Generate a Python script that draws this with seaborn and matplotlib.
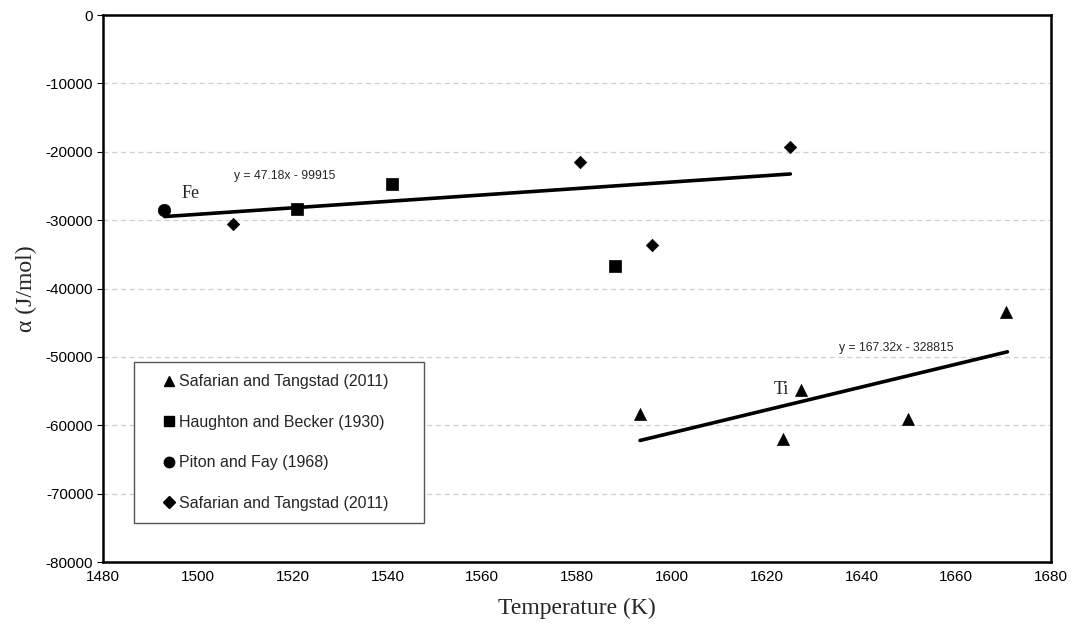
import matplotlib
matplotlib.use("Agg")
import matplotlib.pyplot as plt
from matplotlib.lines import Line2D
import numpy as np
import pandas as pd
import seaborn as sns

# Measured interaction parameters (temperature in K, alpha in J/mol)
ti_safarian_T = [1593.3, 1623.5, 1627.2, 1649.9, 1670.6]
ti_safarian_a = [-58400, -62000, -54900, -59100, -43400]

fe_haughton_T = [1520.9, 1541.0, 1588.0]
fe_haughton_a = [-28300, -24700, -36700]

fe_piton_T = [1492.9]
fe_piton_a = [-28500]

fe_safarian_T = [1507.4, 1580.6, 1595.8, 1624.9]
fe_safarian_a = [-30600, -21450, -33600, -19250]

# Linear fits (slope, intercept) and the temperature span each covers
fe_fit = (47.18, -99915)
fe_fit_T = [1493.0, 1625.0]
ti_fit = (167.32, -328815)
ti_fit_T = [1593.3, 1670.8]

legend_labels = [
    "Safarian and Tangstad (2011)",
    "Haughton and Becker (1930)",
    "Piton and Fay (1968)",
    "Safarian and Tangstad (2011)",
]

x_ticks = list(range(1480, 1681, 20))
y_ticks = list(range(-80000, 1, 10000))

sns.set_theme(style="white")
plt.rcParams["font.family"] = ["Liberation Sans", "DejaVu Sans"]
plt.rcParams["axes.unicode_minus"] = False
serif = ["Liberation Serif", "DejaVu Serif"]

fig = plt.figure(figsize=(10.73, 6.26), dpi=100)
ax = fig.add_axes([0.096, 0.1022, 0.8835, 0.8738])

# Fit lines
for (m, b), span in ((fe_fit, fe_fit_T), (ti_fit, ti_fit_T)):
    xs = np.array(span)
    fit_df = pd.DataFrame({"T": xs, "alpha": m * xs + b})
    sns.lineplot(data=fit_df, x="T", y="alpha", ax=ax, color="black",
                 linewidth=2.6, zorder=3, legend=False)

series = [
    (ti_safarian_T, ti_safarian_a, "^", 75),
    (fe_haughton_T, fe_haughton_a, "s", 75),
    (fe_piton_T, fe_piton_a, "o", 80),
    (fe_safarian_T, fe_safarian_a, "D", 40),
]
for T, a, mk, s in series:
    df = pd.DataFrame({"T": T, "alpha": a})
    sns.scatterplot(data=df, x="T", y="alpha", ax=ax, marker=mk, s=s,
                    color="black", edgecolor="black", linewidth=0.5,
                    zorder=4, legend=False)

ax.set_xlim(1480, 1680)
ax.set_ylim(-80000, 0)
ax.set_xticks(x_ticks)
ax.set_yticks(y_ticks)
ax.tick_params(axis="both", labelsize=11, colors="black")
ax.tick_params(axis="y", length=4, width=0.8, direction="out", left=True, pad=3)
ax.tick_params(axis="x", length=0, pad=6)

for y in y_ticks[1:-1]:
    ax.axhline(y, color="#cfcfcf", linewidth=0.9, linestyle=(0, (4, 3)), zorder=1)

for sp in ax.spines.values():
    sp.set_color("black")
    sp.set_linewidth(1.8)

ax.set_xlabel("Temperature (K)", fontsize=17, family=serif, labelpad=10)
ax.set_ylabel("α (J/mol)", fontsize=17, family=serif, labelpad=6)

# Annotations
ax.text(1498.4, -26100, "Fe", family=serif, fontsize=13, ha="center", va="center")
ax.text(1623.2, -54700, "Ti", family=serif, fontsize=13, ha="center", va="center")
ax.text(1518.4, -23540, "y = 47.18x - 99915", fontsize=8.7, ha="center", va="center")
ax.text(1647.3, -48680, "y = 167.32x - 328815", fontsize=8.7, ha="center", va="center")

handles = [
    Line2D([], [], marker=mk, color="black", linestyle="none",
           markersize=(6 if mk == "D" else 7.5))
    for mk in ("^", "s", "o", "D")
]
leg = ax.legend(handles, legend_labels, loc="lower left",
                bbox_to_anchor=(0.0327, 0.0713, 0.306, 0.2925), mode="expand",
                borderaxespad=0, fontsize=11.5, frameon=True, fancybox=False,
                edgecolor="#555555", handlelength=2.9, handletextpad=-0.82,
                labelspacing=1.6, borderpad=0.75)
leg.get_frame().set_linewidth(1.0)
leg.get_frame().set_facecolor("white")
leg.get_frame().set_alpha(1)

fig.savefig("out.png", dpi=100, facecolor="white")
